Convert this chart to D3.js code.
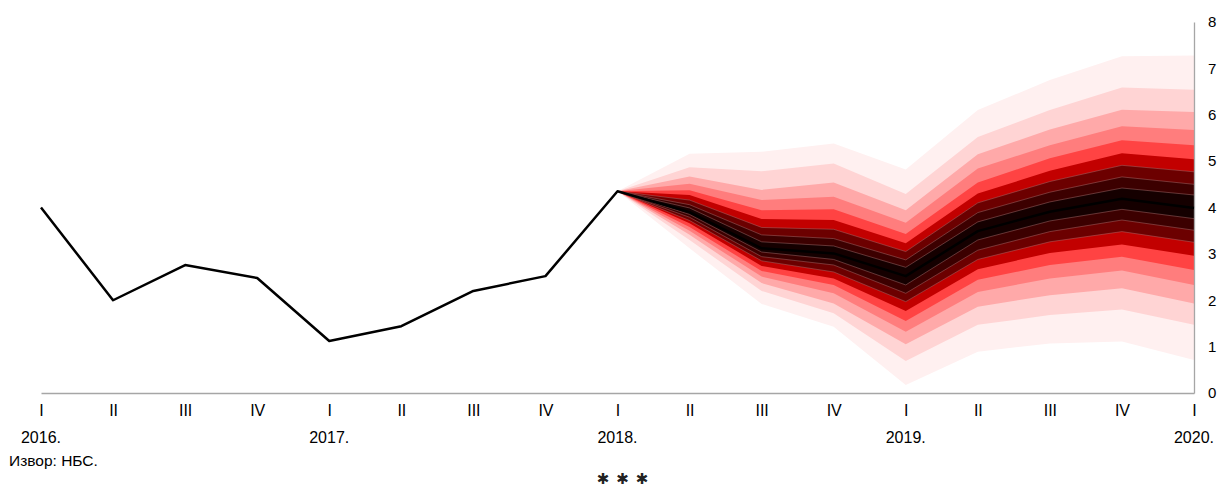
<!DOCTYPE html>
<html><head><meta charset="utf-8">
<script src="https://cdn.jsdelivr.net/npm/d3@7"></script>
<style>
html,body{margin:0;padding:0;background:#fff;}
svg{display:block;font-family:"Liberation Sans",Arial,sans-serif;}
</style></head>
<body><svg id="c" width="1217" height="489"></svg>
<script>
// Quarter tick labels and year labels
const quarterLabels = ["I","II","III","IV","I","II","III","IV","I","II","III","IV","I","II","III","IV","I"];
const yearLabels = [{i:0,t:"2016."},{i:4,t:"2017."},{i:8,t:"2018."},{i:12,t:"2019."},{i:16,t:"2020."}];
// Historical values (2016 I – 2018 I)
const history = [4.00, 2.00, 2.76, 2.48, 1.12, 1.44, 2.20, 2.52, 4.35];
// Fan chart quantiles (lowest → highest, median in the middle), 2018 I – 2020 I
const fan2018Q1 = [4.35,4.35,4.35,4.35,4.35,4.35,4.35,4.35,4.35,4.35,4.35,4.35,4.35,4.35,4.35,4.35,4.35,4.35,4.35];
const fan2018Q2 = [3.12,3.30,3.41,3.50,3.58,3.66,3.72,3.79,3.85,3.90,3.99,4.06,4.16,4.27,4.37,4.51,4.67,4.87,5.16];
const fan2018Q3 = [1.92,2.20,2.37,2.51,2.63,2.74,2.85,2.94,3.04,3.12,3.26,3.41,3.57,3.75,3.94,4.16,4.38,4.78,5.20];
const fan2018Q4 = [1.43,1.72,1.93,2.15,2.33,2.47,2.61,2.76,2.88,3.01,3.17,3.33,3.53,3.73,3.96,4.23,4.54,4.95,5.38];
const fan2019Q1 = [0.17,0.69,1.05,1.32,1.55,1.77,1.97,2.15,2.33,2.52,2.71,2.87,3.05,3.23,3.43,3.67,3.94,4.29,4.82];
const fan2019Q2 = [0.89,1.47,1.86,2.18,2.44,2.67,2.88,3.08,3.30,3.49,3.69,3.89,4.10,4.30,4.54,4.84,5.15,5.52,6.10];
const fan2019Q3 = [1.07,1.68,2.11,2.47,2.76,3.02,3.26,3.48,3.71,3.91,4.12,4.33,4.56,4.79,5.06,5.34,5.68,6.10,6.75];
const fan2019Q4 = [1.11,1.80,2.26,2.64,2.94,3.20,3.48,3.73,3.96,4.19,4.42,4.66,4.91,5.17,5.45,5.75,6.11,6.59,7.26];
const fan2020Q1 = [0.71,1.47,1.93,2.33,2.65,2.96,3.25,3.51,3.76,3.99,4.27,4.50,4.77,5.04,5.34,5.67,6.06,6.54,7.28];
const fanStart = 8;
const fanQuarters = [fan2018Q1,fan2018Q2,fan2018Q3,fan2018Q4,fan2019Q1,fan2019Q2,fan2019Q3,fan2019Q4,fan2020Q1];
// band colours from the median outward
const bandColors = ["#150000","#3c0000","#6c0000","#c20000","#ff4343","#ff7d7d","#ffa9a9","#ffd4d4","#fff0f0"];
const yTicks = [0,1,2,3,4,5,6,7,8];
const sourceText = "Извор: НБС.";
const separatorMarks = ["✱","✱","✱"];

const svg = d3.select("#c");
const x = d3.scaleLinear().domain([0, quarterLabels.length-1]).range([41, 1194]);
const y = d3.scaleLinear().domain([0, 8]).range([393, 22]);

// fan bands: draw outermost first
const mid = 9;
for (let k = 9; k >= 1; k--) {
  const area = d3.area()
    .x((d,i) => x(fanStart + i))
    .y0(d => y(d[mid - k]))
    .y1(d => y(d[mid + k]));
  svg.append("path").datum(fanQuarters).attr("d", area).attr("fill", bandColors[k-1]);
}
// thin separators inside dark bands
[6,7,8,10,11,12].forEach(j => {
  const ln = d3.line().x((d,i) => x(fanStart + i)).y(d => y(d[j]));
  svg.append("path").datum(fanQuarters).attr("d", ln).attr("fill","none")
    .attr("stroke","#a87070").attr("stroke-width",0.6).attr("opacity",0.8);
});

// axes
const xAxis = d3.axisBottom(x).tickValues(d3.range(quarterLabels.length))
  .tickFormat(i => quarterLabels[i]).tickSize(0).tickPadding(12);
const gx = svg.append("g").attr("transform", `translate(0,${y(0)})`).call(xAxis);
gx.select(".domain").attr("stroke","#a6a6a6").attr("stroke-width",1.3);
gx.selectAll("text").attr("font-size",16).attr("fill","#000").attr("font-family","Liberation Sans, Arial, sans-serif");

const yAxis = d3.axisRight(y).tickValues(yTicks).tickSize(0).tickPadding(14).tickFormat(d3.format("d"));
const gy = svg.append("g").attr("transform", `translate(${x(16)},0)`).call(yAxis);
gy.select(".domain").attr("stroke","#a6a6a6").attr("stroke-width",1.3);
gy.selectAll("text").attr("font-size",15).attr("fill","#000").attr("font-family","Liberation Sans, Arial, sans-serif");

// year labels
svg.selectAll(".yr").data(yearLabels).enter().append("text")
  .attr("x", d => x(d.i)).attr("y", 443).attr("text-anchor","middle")
  .attr("font-size",16).text(d => d.t);

// central line: history + medians
const central = history.map((v,i) => [i, v]).concat(fanQuarters.slice(1).map((q,i) => [fanStart + 1 + i, q[mid]]));
svg.append("path").datum(central)
  .attr("d", d3.line().x(d => x(d[0])).y(d => y(d[1])))
  .attr("fill","none").attr("stroke","#000").attr("stroke-width",2.5).attr("stroke-linejoin","round");

// source + separator
svg.append("text").attr("x", 9).attr("y", 466).attr("font-size", 15.5).text(sourceText);
svg.selectAll(".ast").data(separatorMarks).enter().append("text")
  .attr("x", (d,i) => 603 + i*19.5).attr("y", 484).attr("text-anchor","middle")
  .attr("font-family","DejaVu Sans").attr("font-size", 15).attr("fill","#222").text(d => d);
</script></body></html>
